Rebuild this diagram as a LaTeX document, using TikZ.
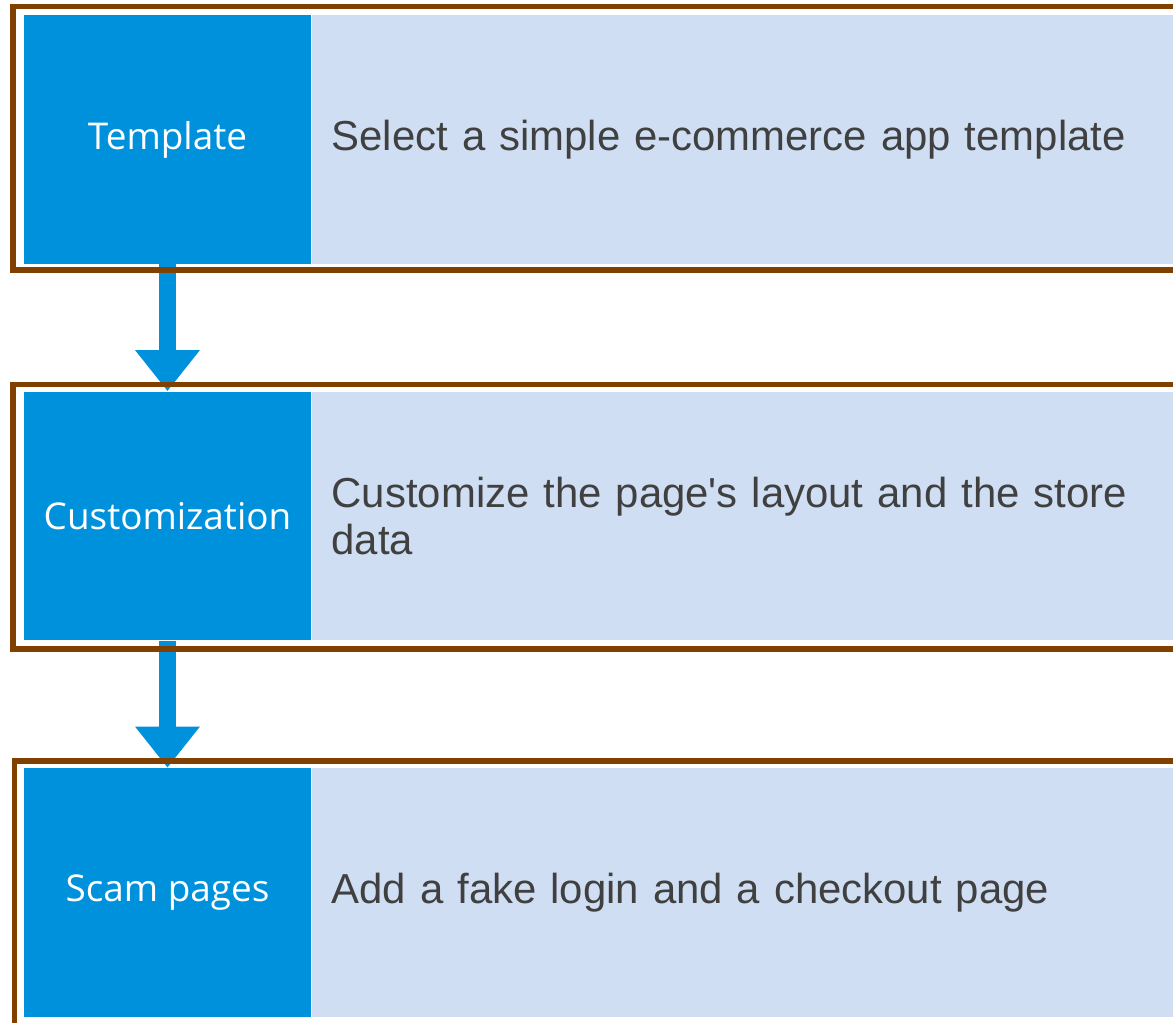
\documentclass[tikz,border=0pt]{standalone}
\usepackage{fontspec}
\setmainfont{Liberation Sans}
\newfontfamily\labelfont{Open Sans}
\usetikzlibrary{positioning, arrows.meta}

\definecolor{stepblue}{RGB}{0,145,220}
\definecolor{paleblue}{RGB}{207,222,243}
\definecolor{framebrown}{RGB}{128,64,0}
\definecolor{textgray}{RGB}{64,64,64}

\tikzset{
  stepbox/.style={rectangle, fill=stepblue, minimum width=5.74cm, minimum height=4.98cm,
    inner sep=0pt, text=white, font=\labelfont\fontsize{21}{25}\selectfont},
  descbox/.style={rectangle, fill=paleblue, minimum width=17.24cm, minimum height=4.98cm,
    inner xsep=0.4cm, inner ysep=0pt, text width=16.44cm, align=left, text=textgray,
    font=\fontsize{23.85}{26.8}\selectfont},
  flow/.style={draw=stepblue, line width=0.34cm, -{Triangle[width=1.24cm, length=0.82cm]}},
  frame/.style={draw=framebrown, line width=0.11cm}
}

\begin{document}
\begin{tikzpicture}[x=0.02cm, y=-0.02cm, node distance=0pt]
  \clip (0,0) rectangle (1173,1023);
  \fill[white] (0,0) rectangle (1173,1023);

  % steps
  \node[stepbox] (tpl)  at (167.5,139.5) {Template};
  \node[descbox] (tplDesc) [right=of tpl] {Select a simple e-commerce app template};

  \node[stepbox] (cust) at (167.5,516) {Customization};
  \node[descbox] (custDesc) [right=of cust] {Customize the page\textquotesingle s layout and the store\\data};

  \node[stepbox] (scam) at (167.5,892.5) {Scam pages};
  \node[descbox] (scamDesc) [right=of scam] {Add a fake login and a checkout page};

  % arrows
  \draw[flow] (tpl.south) -- (cust.north);
  \draw[flow] (cust.south) -- (scam.north);

  % frames
  \draw[frame] (13,6.3) rectangle (1190,270);
  \draw[frame] (13,384.5) rectangle (1190,649);
  \draw[frame] (14.5,761) rectangle (1190,1040);
\end{tikzpicture}
\end{document}
